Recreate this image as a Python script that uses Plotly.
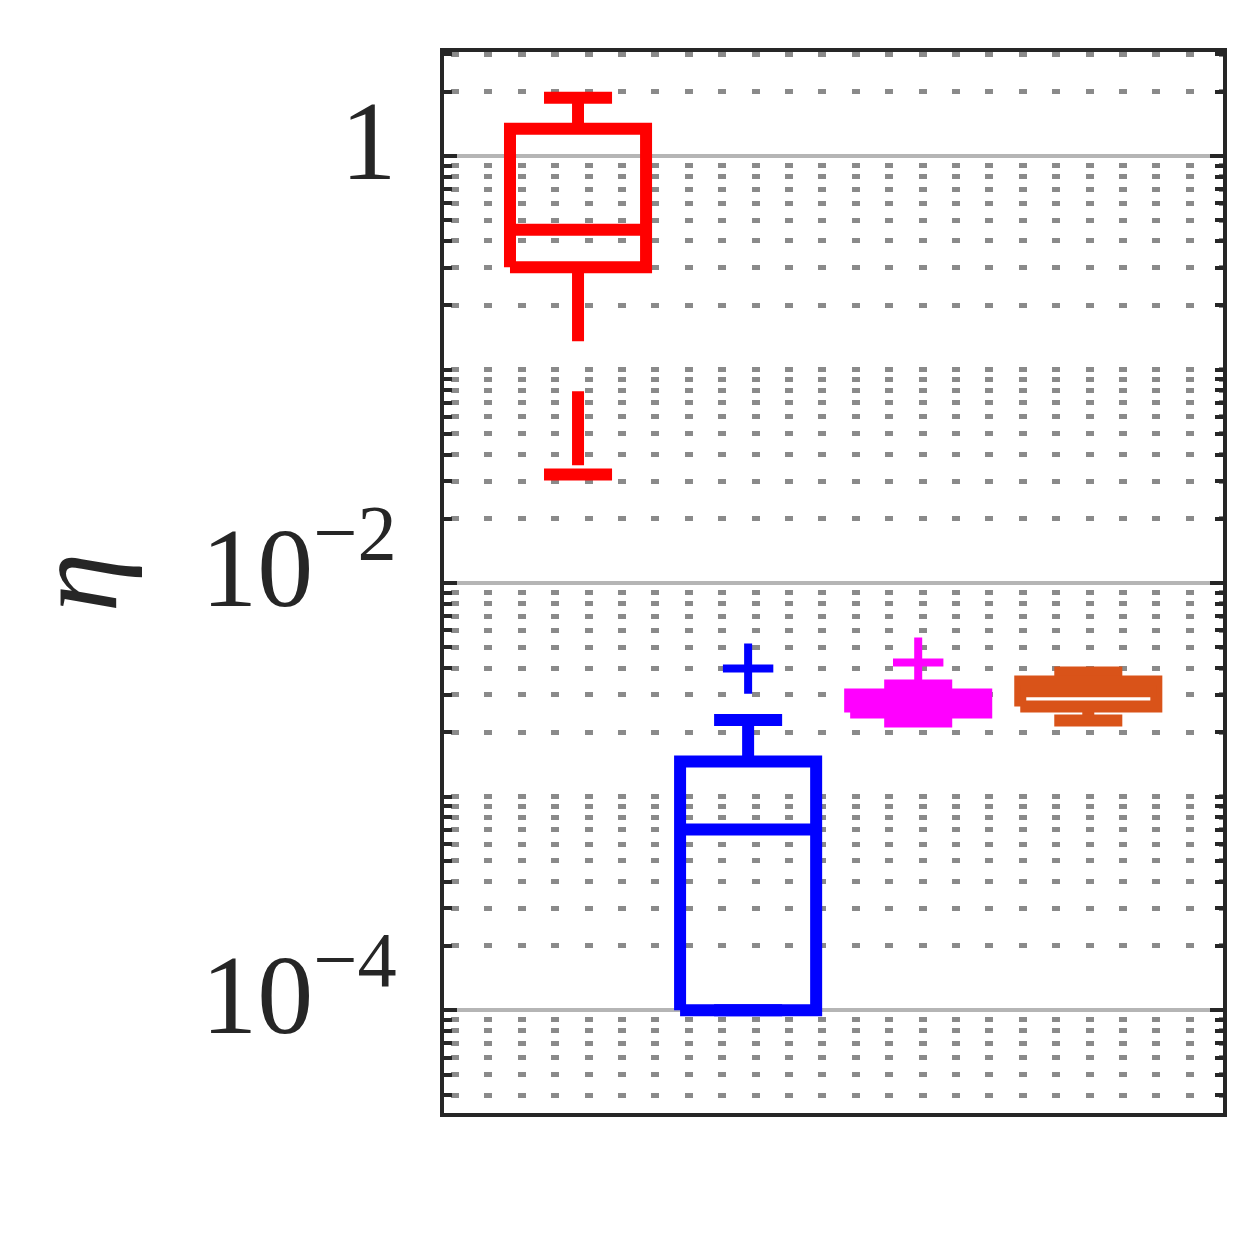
import plotly.graph_objects as go

# ---- data ----
positions = [1, 2, 3, 4]
colors = ["#FF0000", "#0000FF", "#FF00FF", "#D95319"]
upper_whisker = [1.875, 2.284e-3, 3.311e-3, 3.811e-3]
q3 = [1.342, 1.460e-3, 3.006e-3, 3.462e-3]
median = [0.4518, 7.015e-4, 2.728e-3, 3.113e-3]
q1 = [0.3015, 1.0e-4, 2.475e-3, 2.641e-3]
lower_whisker = [0.03221, 1.0e-4, 2.247e-3, 2.271e-3]
outliers = [[], [3.978e-3], [4.244e-3], []]

ytick_vals = [1e-4, 1e-2, 1]
ytick_text = ["10<sup>\u22124</sup>", "10<sup>\u22122</sup>", "1"]
minor_vals = [k * 10.0 ** e for e in range(-5, 1) for k in range(1, 10)
              if k * 10.0 ** e not in (1e-4, 1e-2, 1.0)]

BOX_HALF = 0.4
CAP_HALF = 0.2
LW = 12

fig = go.Figure()
for i, pos in enumerate(positions):
    c = colors[i]
    # whiskers (dashed)
    for a, b in ((q3[i], upper_whisker[i]), (q1[i], lower_whisker[i])):
        fig.add_trace(go.Scatter(x=[pos, pos], y=[a, b], mode="lines",
                                 line=dict(color=c, width=LW, dash="74px,50px"),
                                 hoverinfo="skip", showlegend=False))
    # caps
    for v in (upper_whisker[i], lower_whisker[i]):
        fig.add_trace(go.Scatter(x=[pos - CAP_HALF, pos + CAP_HALF], y=[v, v], mode="lines",
                                 line=dict(color=c, width=LW),
                                 hoverinfo="skip", showlegend=False))
    # box
    fig.add_trace(go.Scatter(
        x=[pos - BOX_HALF, pos + BOX_HALF, pos + BOX_HALF, pos - BOX_HALF, pos - BOX_HALF],
        y=[q1[i], q1[i], q3[i], q3[i], q1[i]], mode="lines",
        line=dict(color=c, width=LW), hoverinfo="skip", showlegend=False))
    # median
    fig.add_trace(go.Scatter(x=[pos - BOX_HALF, pos + BOX_HALF], y=[median[i], median[i]],
                             mode="lines", line=dict(color=c, width=LW),
                             hoverinfo="skip", showlegend=False))
    # outliers
    if outliers[i]:
        fig.add_trace(go.Scatter(x=[pos] * len(outliers[i]), y=outliers[i], mode="markers",
                                 marker=dict(symbol="cross-thin-open", size=36, color=c,
                                             line=dict(color=c, width=8)),
                                 hoverinfo="skip", showlegend=False))

AXC = "#262626"
FONT = "Liberation Serif"

fig.update_layout(
    width=1250, height=1250,
    margin=dict(l=436, r=35, t=44, b=145),
    plot_bgcolor="white", paper_bgcolor="white",
    showlegend=False,
    font=dict(family=FONT, color=AXC),
)
fig.update_xaxes(
    range=[0.212, 4.792], showgrid=False, zeroline=False,
    showticklabels=False, ticks="",
    showline=True, linecolor=AXC, linewidth=4, mirror=True,
)
fig.update_yaxes(
    type="log", range=[-4.4813, 0.4869],
    tickmode="array", tickvals=ytick_vals, ticktext=ytick_text,
    ticks="inside", ticklen=13, tickwidth=4, tickcolor=AXC,
    tickfont=dict(family=FONT, size=112, color=AXC),
    ticklabelstandoff=21, ticklabelshift=-16,
    showline=True, linecolor=AXC, linewidth=4, mirror="ticks",
    showgrid=True, gridcolor="#b5b5b5", gridwidth=4,
    zeroline=False,
    minor=dict(tickmode="array", tickvals=minor_vals, ticks="inside", ticklen=8,
               tickwidth=4, tickcolor=AXC, showgrid=True, gridcolor="#8a8a8a",
               gridwidth=5, griddash="0px,7px,8px,18.4px"),
    title=dict(text="<i>\u03b7</i>", font=dict(family=FONT, size=120, color=AXC), standoff=45),
)

fig.write_html("out.html")
